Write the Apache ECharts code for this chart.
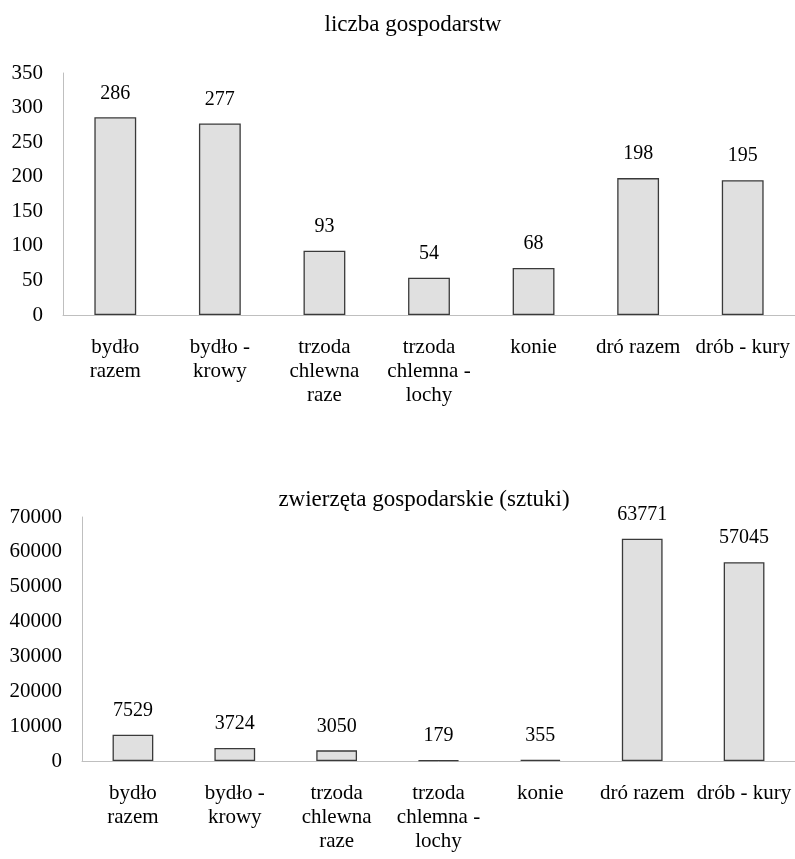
<!DOCTYPE html>
<html>
<head>
<meta charset="utf-8">
<script src="https://cdn.jsdelivr.net/npm/echarts@6/dist/echarts.min.js"></script>
<style>
  html, body { margin: 0; padding: 0; background: #fff; }
  #chart { width: 795px; height: 859px; }
</style>
</head>
<body>
<div id="chart"></div>
<script>
// Kategorie zwierząt (wspólne dla obu wykresów)
const categories = [
  'bydło\nrazem',
  'bydło -\nkrowy',
  'trzoda\nchlewna\nraze',
  'trzoda\nchlemna -\nlochy',
  'konie',
  'dró razem',
  'drób - kury'
];
// Liczba gospodarstw utrzymujących dany gatunek
const farmCounts = [286, 277, 93, 54, 68, 198, 195];
// Liczba zwierząt gospodarskich (sztuki)
const animalCounts = [7529, 3724, 3050, 179, 355, 63771, 57045];

const titleTop = 'liczba gospodarstw';
const titleBottom = 'zwierzęta gospodarskie (sztuki)';

const FONT = '"Liberation Serif", "DejaVu Serif", serif';
const TEXT = '#000';
const AXIS = '#bfbfbf';

function valueAxis(gridIndex, max, interval) {
  return {
    type: 'value', gridIndex, min: 0, max, interval,
    axisLine: { show: true, lineStyle: { color: AXIS, width: 1 } },
    axisTick: { show: false },
    splitLine: { show: false },
    axisLabel: {
      color: TEXT, fontFamily: FONT, fontSize: 21, margin: 20,
      formatter: v => String(v)
    }
  };
}
function categoryAxis(gridIndex) {
  return {
    type: 'category', gridIndex, data: categories,
    axisLine: { show: true, lineStyle: { color: AXIS, width: 1 } },
    axisTick: { show: false },
    axisLabel: {
      color: TEXT, fontFamily: FONT, fontSize: 21, lineHeight: 24,
      margin: 20, interval: 0
    }
  };
}
function barSeries(idx, data) {
  return {
    type: 'bar', xAxisIndex: idx, yAxisIndex: idx, data,
    barWidth: '40%',
    itemStyle: { color: '#e0e0e0', borderColor: '#3a3a3a', borderWidth: 1.3 },
    label: {
      show: true, position: 'top', distance: 14,
      color: TEXT, fontFamily: FONT, fontSize: 20
    },
    silent: true
  };
}

const chart = echarts.init(document.getElementById('chart'), null, { renderer: 'canvas' });
chart.setOption({
  animation: false,
  backgroundColor: '#fff',
  title: [
    { text: titleTop, left: 408, top: 8, textAlign: 'center',
      textStyle: { fontFamily: FONT, fontSize: 23, fontWeight: 'normal', color: TEXT } },
    { text: titleBottom, left: 419, top: 483, textAlign: 'center',
      textStyle: { fontFamily: FONT, fontSize: 23, fontWeight: 'normal', color: TEXT } }
  ],
  grid: [
    { left: 63, right: 0, top: 73, height: 242 },
    { left: 82, right: 0, top: 517, height: 244 }
  ],
  xAxis: [categoryAxis(0), categoryAxis(1)],
  yAxis: [valueAxis(0, 350, 50), valueAxis(1, 70000, 10000)],
  series: [barSeries(0, farmCounts), barSeries(1, animalCounts)]
});
</script>
</body>
</html>
